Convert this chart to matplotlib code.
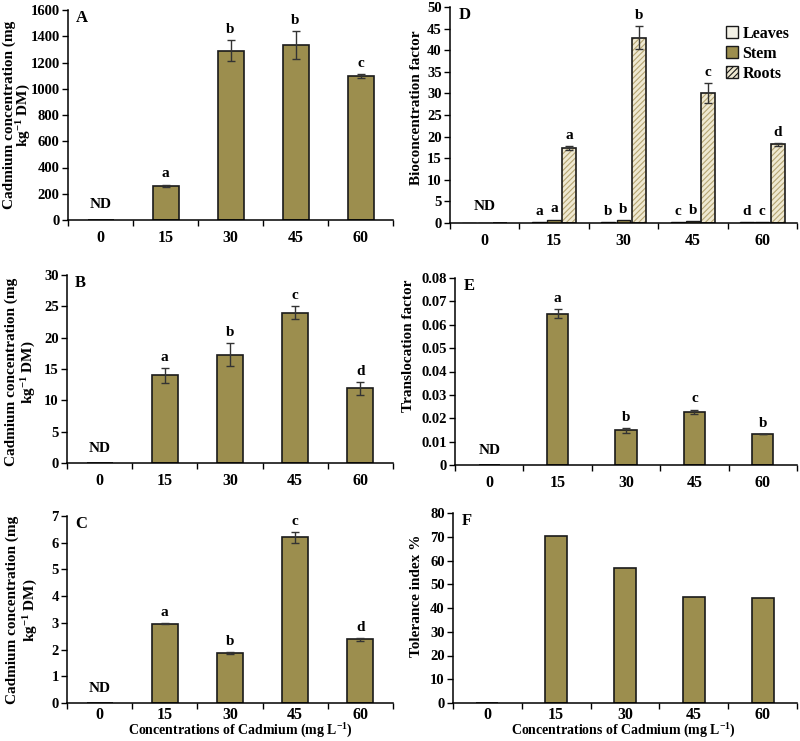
import matplotlib
matplotlib.use("Agg")
import matplotlib.pyplot as plt
import numpy as np
from matplotlib.patches import Patch

plt.rcParams['font.family'] = ['Liberation Serif', 'DejaVu Serif']
plt.rcParams['font.weight'] = 'bold'
plt.rcParams['hatch.linewidth'] = 0.8
plt.rcParams['mathtext.default'] = 'regular'

categories = ["0", "15", "30", "45", "60"]

# Panel A
a_vals = [0, 260, 1290, 1335, 1095]
a_err = [0, 10, 80, 105, 15]
a_let = ["", "a", "b", "b", "c"]
# Panel B
b_vals = [0, 14.0, 17.3, 24.0, 11.9]
b_err = [0, 1.2, 1.9, 1.1, 1.0]
b_let = ["", "a", "b", "c", "d"]
# Panel C
c_vals = [0, 2.97, 1.88, 6.2, 2.38]
c_err = [0, 0.02, 0.03, 0.2, 0.05]
c_let = ["", "a", "b", "c", "d"]
# Panel D
d_leaves = [0, 0.2, 0.2, 0.2, 0.15]
d_stem = [0, 0.8, 0.6, 0.4, 0.2]
d_roots = [0, 17.4, 42.9, 30.0, 18.2]
d_roots_err = [0, 0.5, 2.7, 2.3, 0.3]
d_leaves_let = ["", "a", "b", "c", "d"]
d_stem_let = ["", "a", "b", "b", "c"]
d_roots_let = ["", "a", "b", "c", "d"]
# Panel E
e_vals = [0, 0.0647, 0.0148, 0.0227, 0.0131]
e_err = [0, 0.002, 0.001, 0.001, 0.0]
e_let = ["", "a", "b", "c", "b"]
# Panel F
f_vals = [0, 70.2, 56.7, 44.6, 44.3]

OLIVE = "#9C8E4E"
EDGE = "#1a1a1a"
ERRC = "#333333"
YT = 10.5    # y tick size
XT = 11.5    # x tick size
LS = 11      # letters
LBL = 11     # axis label

W, H = 800, 741
fig = plt.figure(figsize=(8, 7.41), dpi=100)


def rect(l, r, t, b):
    return [l / W, 1 - b / H, (r - l) / W, (b - t) / H]


def style(ax, ymax, ystep, fmt=None, xpad=7):
    x = np.arange(len(categories))
    ticks = np.arange(0, ymax + ystep / 2, ystep)
    ax.set_xlim(-0.5, len(categories) - 0.5)
    ax.set_ylim(0, ymax)
    ax.set_yticks(ticks)
    if fmt:
        ax.set_yticklabels([fmt(v) for v in ticks])
    ax.set_xticks(x)
    ax.set_xticklabels(categories)
    ax.set_xticks(np.arange(-0.5, len(categories), 1.0), minor=True)
    ax.tick_params(axis='x', which='major', length=0, pad=xpad, labelsize=XT)
    ax.tick_params(axis='x', which='minor', length=4, width=1, direction='out')
    ax.tick_params(axis='y', length=4, width=1, direction='out', labelsize=YT, pad=2)
    for s in ['top', 'right']:
        ax.spines[s].set_visible(False)
    for s in ['left', 'bottom']:
        ax.spines[s].set_linewidth(1.1)
    for lab in ax.get_xticklabels() + ax.get_yticklabels():
        lab.set_fontweight('bold')


def ylab(text, xc, yc):
    fig.text(xc / W, 1 - yc / H, text, rotation=90, ha='center', va='center',
             fontsize=LBL, fontweight='bold')


def single(rc, vals, err, lets, ymax, ystep, letter, fmt=None, nd=True, width=0.4, xpad=7):
    ax = fig.add_axes(rc)
    x = np.arange(len(categories))
    ax.bar(x, vals, width=width, color=OLIVE, edgecolor=EDGE, linewidth=1.2, zorder=2)
    if err is not None:
        ax.errorbar(x[1:], vals[1:], yerr=err[1:], fmt='none', ecolor=ERRC,
                    elinewidth=1, capsize=3, capthick=1, zorder=3)
        for xi, v, e, l in zip(x, vals, err, lets):
            if l:
                ax.annotate(l, (xi, v + e), xytext=(0, 3), textcoords='offset points',
                            ha='center', va='bottom', fontsize=LS, fontweight='bold')
    style(ax, ymax, ystep, fmt, xpad)
    ax.text(0.025, 1.0, letter, transform=ax.transAxes, ha='left', va='top',
            fontsize=12, fontweight='bold')
    if nd:
        ax.text(0, ymax * 0.045, "ND", ha='center', va='bottom', fontsize=LS, fontweight='bold')
    return ax


cad_line1 = "Cadmium concentration (mg"
cad_line2 = "kg$^{-1}$ DM)"

single(rect(68, 393, 10, 220), a_vals, a_err, a_let, 1600, 200, "A")
ylab(cad_line1, 9, 115)
ylab(cad_line2, 24, 115)
single(rect(67, 393, 275, 463), b_vals, b_err, b_let, 30, 5, "B")
ylab(cad_line1, 11, 372)
ylab(cad_line2, 29, 372)
single(rect(67, 393, 516, 703), c_vals, c_err, c_let, 7, 1, "C", xpad=3)
ylab(cad_line1, 12, 610)
ylab(cad_line2, 31, 610)
single(rect(455, 797, 278, 465), e_vals, e_err, e_let, 0.08, 0.01, "E",
       fmt=lambda v: "0" if v == 0 else f"{v:.2f}", width=0.31)
ylab("Translocation factor", 408, 346)
single(rect(453, 797, 513, 703), f_vals, None, None, 80, 10, "F", nd=False, width=0.32, xpad=3)
ylab("Tolerance index %", 416, 596)

xlab = "Concentrations of Cadmium (mg L$^{-1}$)"
fig.text(240 / W, 1 - 731 / H, xlab, ha='center', va='center', fontsize=10, fontweight='bold')
fig.text(623 / W, 1 - 731 / H, xlab, ha='center', va='center', fontsize=10, fontweight='bold')

# Panel D
axD = fig.add_axes(rect(450, 797, 7, 223))
x = np.arange(len(categories))
w = 0.2
off = 0.22
ROOTFACE = "#EFE9D2"
HATCHC = "#B5A573"
LEAFC = "#F3F1E6"
axD.bar(x - off, d_leaves, width=w, color=LEAFC, edgecolor=EDGE, linewidth=1.0, zorder=2)
axD.bar(x, d_stem, width=w, color=OLIVE, edgecolor=EDGE, linewidth=1.0, zorder=2)
axD.bar(x + off, d_roots, width=w, color=ROOTFACE, edgecolor=HATCHC, hatch='//////', linewidth=0, zorder=2)
axD.bar(x + off, d_roots, width=w, fill=False, edgecolor=EDGE, linewidth=1.2, zorder=2.5)
axD.errorbar(x[1:] + off, d_roots[1:], yerr=d_roots_err[1:], fmt='none', ecolor=ERRC,
             elinewidth=1, capsize=3, capthick=1, zorder=3)
for i in range(1, len(categories)):
    axD.annotate(d_leaves_let[i], (x[i] - off, d_leaves[i]), xytext=(0, 3), textcoords='offset points',
                 ha='center', va='bottom', fontsize=LS, fontweight='bold')
    axD.annotate(d_stem_let[i], (x[i], d_stem[i]), xytext=(0, 3), textcoords='offset points',
                 ha='center', va='bottom', fontsize=LS, fontweight='bold')
    axD.annotate(d_roots_let[i], (x[i] + off, d_roots[i] + d_roots_err[i]), xytext=(0, 3),
                 textcoords='offset points', ha='center', va='bottom', fontsize=LS, fontweight='bold')
style(axD, 50, 5)
ylab("Bioconcentration factor", 416, 108)
axD.text(0.025, 1.0, "D", transform=axD.transAxes, ha='left', va='top', fontsize=12, fontweight='bold')
axD.text(0, 50 * 0.045, "ND", ha='center', va='bottom', fontsize=LS, fontweight='bold')
handles = [Patch(facecolor=LEAFC, edgecolor=EDGE, linewidth=1.0),
           Patch(facecolor=OLIVE, edgecolor=EDGE, linewidth=1.0),
           Patch(facecolor=ROOTFACE, edgecolor=EDGE, hatch='//////', linewidth=1.0)]
axD.legend(handles, ["Leaves", "Stem", "Roots"], loc='upper right', bbox_to_anchor=(1.01, 0.965),
           frameon=False, handlelength=0.75, handleheight=0.75, handletextpad=0.25,
           labelspacing=0.25, borderpad=0.2, prop={'weight': 'bold', 'size': 11.5})

fig.savefig("out.png", dpi=100)
